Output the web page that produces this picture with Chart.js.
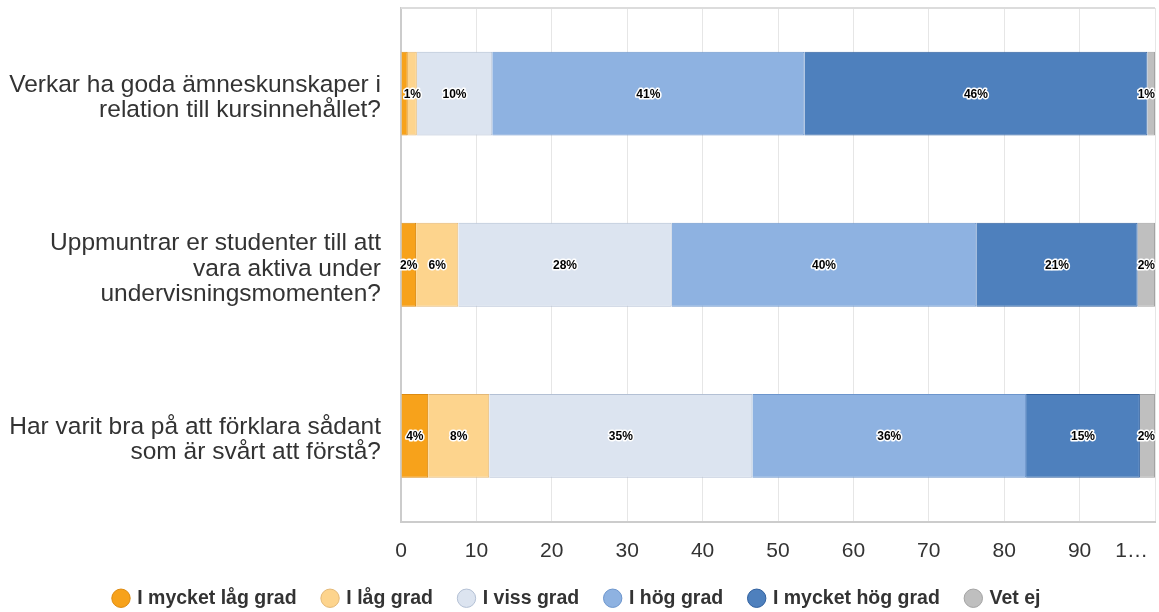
<!DOCTYPE html>
<html>
<head>
<meta charset="utf-8">
<script src="https://cdn.jsdelivr.net/npm/chart.js@4/dist/chart.umd.min.js"></script>
<style>
  body { margin: 0; background: #fff; }
  #wrap { width: 1159px; height: 612px; position: relative; }
</style>
</head>
<body>
<div id="wrap"><canvas id="barChart"></canvas></div>
<script>
const questions = [
    ['Verkar ha goda ämneskunskaper i', 'relation till kursinnehållet?'],
    ['Uppmuntrar er studenter till att', 'vara aktiva under', 'undervisningsmomenten?'],
    ['Har varit bra på att förklara sådant', 'som är svårt att förstå?']
];
const answerLabels = ['I mycket låg grad', 'I låg grad', 'I viss grad', 'I hög grad', 'I mycket hög grad', 'Vet ej'];
// percent per answer, one entry per question
const veryLow  = [0.9, 2.0, 3.6];
const low      = [1.2, 5.6, 8.1];
const some     = [10.0, 28.3, 34.9];
const high     = [41.4, 40.4, 36.3];
const veryHigh = [45.5, 21.4, 15.1];
const dontKnow = [1.0, 2.3, 2.0];
const xTicks = [0, 10, 20, 30, 40, 50, 60, 70, 80, 90, 100];

const fills   = ['#f7a21b', '#fdd48d', '#dce4f0', '#8eb2e1', '#4e80bd', '#bfbfbf'];
const borders = ['#dc8a10', '#e3b877', '#b3c0d4', '#6c95cc', '#2f5f9e', '#a3a3a3'];
const series = [veryLow, low, some, high, veryHigh, dontKnow];

const FONT = '"Liberation Sans", Arial, sans-serif';

// draws rounded % inside each segment, hides ones that collide
const pctLabels = {
    id: 'pctLabels',
    afterDatasetsDraw(chart) {
        const ctx = chart.ctx;
        ctx.save();
        ctx.font = 'bold 12px ' + FONT;
        ctx.textBaseline = 'middle';
        ctx.textAlign = 'center';
        ctx.lineJoin = 'round';
        const nRows = chart.data.labels.length;
        for (let r = 0; r < nRows; r++) {
            const placed = [];
            for (let d = chart.data.datasets.length - 1; d >= 0; d--) {
                const bar = chart.getDatasetMeta(d).data[r];
                const v = chart.data.datasets[d].data[r];
                const txt = Math.round(v) + '%';
                const w = ctx.measureText(txt).width;
                let cx = (bar.x + bar.base) / 2;
                if (cx + w / 2 > chart.width - 4) cx = chart.width - 4 - w / 2;
                const left = cx - w / 2, right = cx + w / 2;
                if (placed.some(p => left < p[1] && right > p[0])) continue;
                placed.push([left, right]);
                ctx.strokeStyle = '#fff';
                ctx.lineWidth = 3;
                ctx.strokeText(txt, cx, bar.y + 1);
                ctx.fillStyle = '#000';
                ctx.fillText(txt, cx, bar.y + 1);
            }
        }
        // top border of plot area
        const a = chart.chartArea;
        ctx.strokeStyle = '#dcdcdc';
        ctx.lineWidth = 2;
        ctx.beginPath();
        ctx.moveTo(a.left, a.top);
        ctx.lineTo(a.right, a.top);
        ctx.stroke();
        ctx.restore();
    }
};

const ctx = document.getElementById('barChart').getContext('2d');

const stackedBar = new Chart(ctx, {
    type: 'bar',
    data: {
        labels: questions,
        datasets: series.map((vals, i) => ({
            label: answerLabels[i],
            data: vals,
            backgroundColor: fills[i],
            borderColor: borders[i],
            borderWidth: 1,
            categoryPercentage: 0.98,
            barPercentage: 0.5
        }))
    },
    options: {
        indexAxis: 'y',
        responsive: true,
        maintainAspectRatio: false,
        animation: false,
        layout: { padding: { top: 8, right: 4, left: 0, bottom: -6 } },
        plugins: {
            tooltip: { enabled: false },
            legend: {
                position: 'bottom',
                labels: {
                    usePointStyle: true,
                    pointStyle: 'circle',
                    boxWidth: 13,
                    boxHeight: 13,
                    padding: 27,
                    color: '#333',
                    font: { size: 19.5, weight: 'bold', family: FONT }
                }
            }
        },
        scales: {
            x: {
                stacked: true,
                min: 0,
                max: 100,
                afterBuildTicks: (scale) => { scale.ticks = xTicks.map(v => ({ value: v })); },
                ticks: {
                    padding: 17,
                    color: '#333',
                    maxRotation: 0,
                    autoSkip: false,
                    font: { size: 21, family: FONT },
                    // last label is cut short in the original and sits inside the canvas
                    callback: (v) => v === 100 ? '1…' + '\u00a0'.repeat(8) : v
                },
                grid: { color: '#e6e6e6', drawTicks: false },
                border: { color: '#cccccc', width: 2 },
                afterFit: (scale) => {
                    scale.height = 40;
                    scale.paddingLeft = 0;
                    scale.paddingRight = 0;
                }
            },
            y: {
                stacked: true,
                ticks: {
                    padding: 12,
                    labelOffset: 4,
                    color: '#333',
                    font: { size: 24.5, lineHeight: 1.04, family: FONT }
                },
                grid: { display: false },
                border: { color: '#cccccc', width: 2 },
                afterFit: (scale) => {
                    scale.width = 401;
                    scale.paddingTop = 0;
                    scale.paddingBottom = 0;
                }
            }
        }
    },
    plugins: [pctLabels]
});
</script>
</body>
</html>
